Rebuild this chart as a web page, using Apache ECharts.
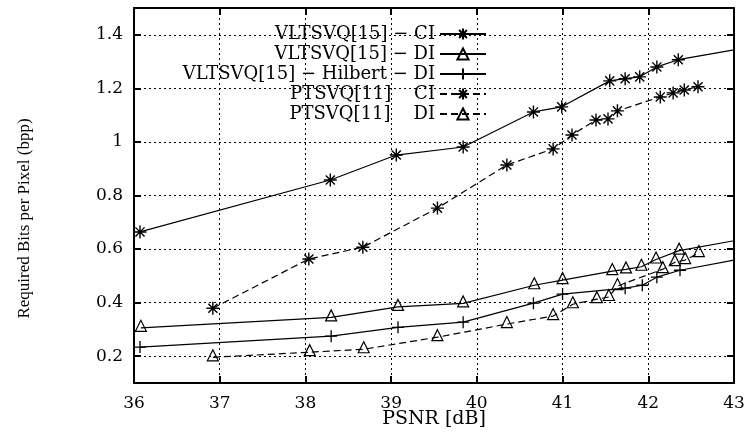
<!DOCTYPE html>
<html>
<head>
<meta charset="utf-8">
<script src="https://cdn.jsdelivr.net/npm/echarts@6/dist/echarts.min.js"></script>
<style>html,body{margin:0;padding:0;background:#fff}#c{width:746px;height:435px}</style>
</head>
<body>
<div id="c"></div>
<script>
// ---- data ----
const xTicks = [36, 37, 38, 39, 40, 41, 42, 43];
const yTicks = [0.2, 0.4, 0.6, 0.8, 1.0, 1.2, 1.4];

const vlCiX = [36.07, 38.29, 39.06, 39.84, 40.66, 40.99, 41.55, 41.73, 41.90, 42.10, 42.35, 43.0];
const vlCiY = [0.664, 0.858, 0.951, 0.981, 1.112, 1.131, 1.228, 1.236, 1.243, 1.280, 1.307, 1.344];

const vlDiX = [36.08, 38.30, 39.08, 39.84, 40.67, 41.00, 41.58, 41.74, 41.92, 42.09, 42.36, 43.0];
const vlDiY = [0.306, 0.345, 0.384, 0.397, 0.465, 0.484, 0.518, 0.524, 0.534, 0.561, 0.594, 0.631];

const hilX = [36.07, 38.30, 39.08, 39.84, 40.66, 41.00, 41.73, 41.93, 42.10, 42.37, 43.0];
const hilY = [0.234, 0.275, 0.308, 0.327, 0.398, 0.432, 0.454, 0.465, 0.495, 0.521, 0.559];

const ptCiX = [36.92, 38.04, 38.67, 39.54, 40.35, 40.89, 41.11, 41.39, 41.53, 41.64, 42.14, 42.29, 42.42, 42.58];
const ptCiY = [0.379, 0.563, 0.607, 0.753, 0.914, 0.974, 1.026, 1.082, 1.086, 1.116, 1.168, 1.183, 1.194, 1.206];

const ptDiX = [36.92, 38.05, 38.68, 39.54, 40.35, 40.89, 41.12, 41.40, 41.54, 41.64, 42.17, 42.31, 42.43, 42.59];
const ptDiY = [0.196, 0.215, 0.226, 0.271, 0.320, 0.350, 0.394, 0.413, 0.421, 0.462, 0.525, 0.551, 0.559, 0.585];

const names = [
  'VLTSVQ[15] \u2212 CI',
  'VLTSVQ[15] \u2212 DI',
  'VLTSVQ[15] \u2212 Hilbert \u2212 DI',
  'PTSVQ[11]\u00a0\u00a0\u00a0\u00a0CI',
  'PTSVQ[11]\u00a0\u00a0\u00a0\u00a0DI'
];

// ---- styling ----
const ASTER = 'path://M0,6L12,6M6,0L6,12M1.8,1.8L10.2,10.2M10.2,1.8L1.8,10.2';
const PLUS = 'path://M0,6L12,6M6,0L6,12';
const serifH = 'DejaVu Serif';
const serifV = 'Liberation Serif';

function pts(xs, ys, openEnd) {
  return xs.map((x, i) => (openEnd && i === xs.length - 1)
    ? { value: [x, ys[i]], symbol: 'none' }
    : [x, ys[i]]);
}

function mk(name, xs, ys, symbol, size, dashed, openEnd, offset, bw) {
  return {
    name: name,
    type: 'line',
    data: pts(xs, ys, openEnd),
    symbol: symbol,
    symbolSize: size,
    symbolOffset: offset || [0, 0],
    showAllSymbol: true,
    clip: true,
    lineStyle: { color: '#000', width: 1.2, type: dashed ? [7, 4] : 'solid' },
    itemStyle: { color: 'rgba(0,0,0,0)', borderColor: '#000', borderWidth: bw || 1.2 },
    emphasis: { disabled: true },
    z: 3
  };
}

const series = [
  mk(names[0], vlCiX, vlCiY, ASTER, 13, false, true, null, 1.4),
  mk(names[1], vlDiX, vlDiY, 'triangle', 11, false, true, [0, -2]),
  mk(names[2], hilX, hilY, PLUS, 12, false, true, null, 1.3),
  mk(names[3], ptCiX, ptCiY, ASTER, 13, true, false, null, 1.4),
  mk(names[4], ptDiX, ptDiY, 'triangle', 11, true, false, [0, -2])
];

const rowTops = [24, 44, 64, 84, 104];
const legends = names.map((n, i) => ({
  data: [n],
  right: 259,
  top: rowTops[i],
  orient: 'vertical',
  align: 'right',
  padding: 0,
  itemWidth: 46,
  itemHeight: 14,
  selectedMode: false,
  textStyle: { fontFamily: serifH, fontSize: 18, color: '#000', lineHeight: 20 }
}));

const axisLine = { show: true, onZero: false, lineStyle: { color: '#000', width: 2 } };
const axisTick = { show: true, inside: true, length: 7, lineStyle: { color: '#000', width: 2 } };
const grid = { type: [2, 3], color: '#000', width: 1 };

const option = {
  animation: false,
  backgroundColor: '#fff',
  grid: { left: 134, right: 12, top: 8, bottom: 52, containLabel: false, outerBoundsMode: 'none' },
  legend: legends,
  xAxis: [
    {
      type: 'value', min: 36, max: 43, interval: 1, position: 'bottom',
      name: 'PSNR [dB]', nameLocation: 'middle', nameGap: 27, nameMoveOverlap: false,
      nameTextStyle: { fontFamily: serifH, fontSize: 19, color: '#000' },
      axisLine: axisLine, axisTick: axisTick,
      axisLabel: { color: '#000', fontFamily: serifH, fontSize: 17, margin: 12 },
      splitLine: { show: true, lineStyle: grid }
    },
    {
      type: 'value', min: 36, max: 43, interval: 1, position: 'top',
      axisLine: axisLine, axisTick: axisTick,
      axisLabel: { show: false }, splitLine: { show: false }
    }
  ],
  yAxis: [
    {
      type: 'value', min: 0.1, max: 1.5, splitNumber: 7, position: 'left',
      name: 'Required Bits per Pixel (bpp)', nameLocation: 'middle', nameGap: 101,
      nameTextStyle: { fontFamily: serifV, fontSize: 17, color: '#000', padding: [0, 46, 0, 0] },
      axisLine: axisLine,
      axisTick: Object.assign({ customValues: yTicks }, axisTick),
      axisLabel: { color: '#000', fontFamily: serifH, fontSize: 17, margin: 11,
                   customValues: yTicks, formatter: v => String(+v.toFixed(1)) },
      splitLine: { show: true, lineStyle: grid }
    },
    {
      type: 'value', min: 0.1, max: 1.5, splitNumber: 7, position: 'right',
      axisLine: axisLine,
      axisTick: Object.assign({ customValues: yTicks }, axisTick),
      axisLabel: { show: false }, splitLine: { show: false }
    }
  ],
  series: series
};

const chart = echarts.init(document.getElementById('c'), null, { renderer: 'canvas' });
chart.setOption(option);
</script>
</body>
</html>
